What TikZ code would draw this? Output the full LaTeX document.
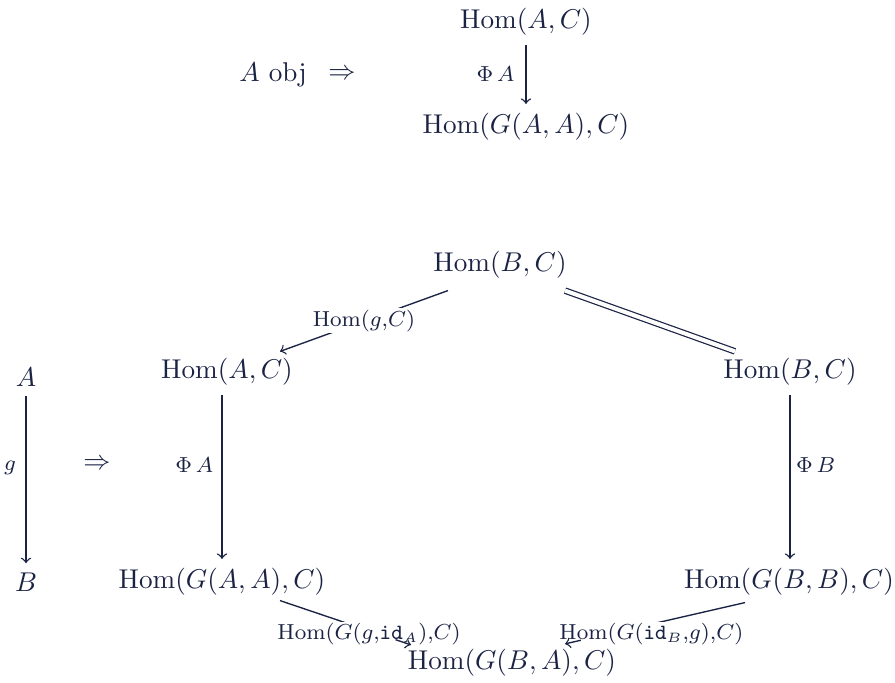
\documentclass[tikz,border=0pt]{standalone}
\usetikzlibrary{calc}
\definecolor{ink}{HTML}{1B2344}
\begin{document}
\begin{tikzpicture}[x=0.368pt,y=-0.368pt,
  every node/.style={text=ink},
  obj/.style={inner sep=3.3pt},
  smallf/.style={font=\fontsize{10.8}{13}\selectfont},
  wlbl/.style={smallf,inner sep=0.6pt,fill=white},
  arr/.style={->,draw=ink,line width=0.5pt},
  dbl/.style={draw=ink,double distance=1.5pt,line width=0.45pt}]
\useasboundingbox (0,0) rectangle (895,683);
% top part
\node[obj] (tA) at (526,22) {$\mathrm{Hom}(A,C)$};
\node[obj] (tGA) at (526,127) {$\mathrm{Hom}(G(A,A),C)$};
\node[obj] (aobj) at (273,75) {$A$ obj};
\node[obj] (imp1) at (342,75) {$\Rightarrow$};
\draw[arr] (tA.south) -- node[smallf,left,pos=0.5,inner sep=4pt] {$\scriptstyle\Phi\,A$} (tGA.north);
% bottom part
\node[obj] (top) at (500,265) {$\mathrm{Hom}(B,C)$};
\node[obj] (lA) at (227,372) {$\mathrm{Hom}(A,C)$};
\node[obj] (rB) at (790,372) {$\mathrm{Hom}(B,C)$};
\node[obj] (lGA) at (222,582) {$\mathrm{Hom}(G(A,A),C)$};
\node[obj] (rGB) at (789,582) {$\mathrm{Hom}(G(B,B),C)$};
\node[obj] (bot) at (512,663) {$\mathrm{Hom}(G(B,A),C)$};
\node[obj] (oA) at (26,377) {$A$};
\node[obj] (oB) at (26,582) {$B$};
\node[obj] (imp2) at (97,465) {$\Rightarrow$};
\draw[arr] (oA.south) -- node[smallf,left,pos=0.43,inner sep=3.5pt] {$\scriptstyle g$} (oB.north);
\draw[arr] ($(top.south)+(-52,2.5)$) -- node[wlbl,pos=0.5] {$\scriptstyle\mathrm{Hom}(g,C)$} ($(lA.north)+(53,2.5)$);
\draw[dbl] ($(top.south)+(65,2.5)$) -- ($(rB.north)+(-55,2.5)$);
\draw[arr] (lA.south -| lGA.north) -- node[smallf,left,pos=0.43,inner sep=3pt] {$\scriptstyle\Phi\,A$} (lGA.north);
\draw[arr] (rB.south) -- node[smallf,right,pos=0.43,inner sep=2pt] {$\scriptstyle\Phi\,B$} (rB.south |- rGB.north);
% bottom arrows
\coordinate (s1) at ($(lGA.south)+(58,-4.5)$);
\coordinate (e1) at ($(bot.north)+(-101,5)$);
\coordinate (s2) at ($(rGB.south)+(-44,-2.5)$);
\coordinate (e2) at ($(bot.north)+(53,4)$);
\draw[arr] (s1) -- node[wlbl,pos=0.68,yshift=-1.3pt] {$\scriptstyle\mathrm{Hom}(G(g,\mathtt{id}_A),C)$} (e1);
\draw[arr] (s2) -- node[wlbl,pos=0.52,yshift=-3.8pt] {$\scriptstyle\mathrm{Hom}(G(\mathtt{id}_B,g),C)$} (e2);
\draw[arr] ($(e1)!6pt!(s1)$) -- (e1);
\draw[arr] ($(e2)!6pt!(s2)$) -- (e2);
\end{tikzpicture}
\end{document}
